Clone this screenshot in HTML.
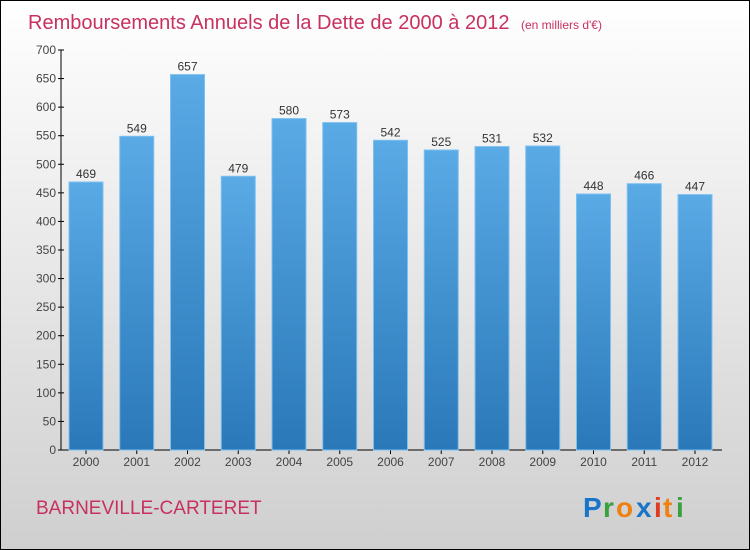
<!DOCTYPE html>
<html><head><meta charset="utf-8"><style>
body{margin:0}
svg{display:block;font-family:"Liberation Sans",sans-serif}
</style></head><body>
<svg width="750" height="550">
<defs>
<linearGradient id="bg" x1="0" y1="0" x2="0" y2="1"><stop offset="0" stop-color="#ffffff"/><stop offset="1" stop-color="#cfcfcf"/></linearGradient>
<linearGradient id="bar" x1="0" y1="0" x2="0" y2="1"><stop offset="0" stop-color="#5aaae6"/><stop offset="1" stop-color="#2a78b8"/></linearGradient>
</defs>
<rect x="0.5" y="0.5" width="749" height="549" fill="url(#bg)" stroke="#000"/>
<text x="28" y="29" font-size="20" fill="#c8315f">Remboursements Annuels de la Dette de 2000 à 2012 <tspan font-size="12" dx="6">(en milliers d'€)</tspan></text>
<g id="axes"></g>
<g id="bars"></g>
<text x="36" y="514" font-size="19" fill="#c8315f">BARNEVILLE-CARTERET</text>
<g font-size="28" font-weight="bold">
<text x="583" y="517" fill="#1a75c8">P</text><text x="603" y="517" fill="#3aa040">r</text><text x="616" y="517" fill="#f08010">o</text><text x="636" y="517" fill="#1a75c8">x</text><text x="654" y="517" fill="#e03a20">i</text><text x="663" y="517" fill="#f08010">t</text><text x="676" y="517" fill="#3aa040">i</text>
</g>
</svg>
<script>
const categories=["2000","2001","2002","2003","2004","2005","2006","2007","2008","2009","2010","2011","2012"];
const values=[469,549,657,479,580,573,542,525,531,532,448,466,447];
const yTicks=[0,50,100,150,200,250,300,350,400,450,500,550,600,650,700];
const NS="http://www.w3.org/2000/svg";
const x0=61,y0=450,yMax=700,plotH=400,step=50.75,bw=34;
const y=v=>y0-v/yMax*plotH;
const xc=i=>86+i*step;
function mk(t,a,p){const e=document.createElementNS(NS,t);for(const k in a)e.setAttribute(k,a[k]);p.appendChild(e);return e;}
const ax=document.getElementById('axes'),bg=document.getElementById('bars');
let l=mk('line',{x1:x0,y1:y(yMax),x2:x0,y2:y0,stroke:'#000'},ax);


l=mk('line',{x1:x0,y1:y0,x2:722,y2:y0,stroke:'#000'},ax);


yTicks.forEach(v=>{
 mk('line',{x1:x0-3,y1:y(v),x2:x0+3,y2:y(v),stroke:'#000'},ax);
 const t=mk('text',{x:x0-5,y:y(v)+4,'text-anchor':'end','font-size':12,fill:'#444'},ax);
 t.textContent=v;
 
 
});
categories.forEach((c,i)=>{
 const r=mk('rect',{x:xc(i)-bw/2,y:y(values[i]),width:bw,height:y0-y(values[i]),fill:'url(#bar)',stroke:'#7cc0f0','stroke-width':1},bg);
 
 
 const v=mk('text',{x:xc(i),y:y(values[i])-4,'text-anchor':'middle','font-size':12,fill:'#333'},bg);
 v.textContent=values[i];
 
 
 mk('line',{x1:xc(i),y1:y0,x2:xc(i),y2:y0+4,stroke:'#000'},ax);
 const t=mk('text',{x:xc(i),y:y0+16,'text-anchor':'middle','font-size':12,fill:'#444'},ax);
 t.textContent=c;
 
 
});
</script>
</body></html>
